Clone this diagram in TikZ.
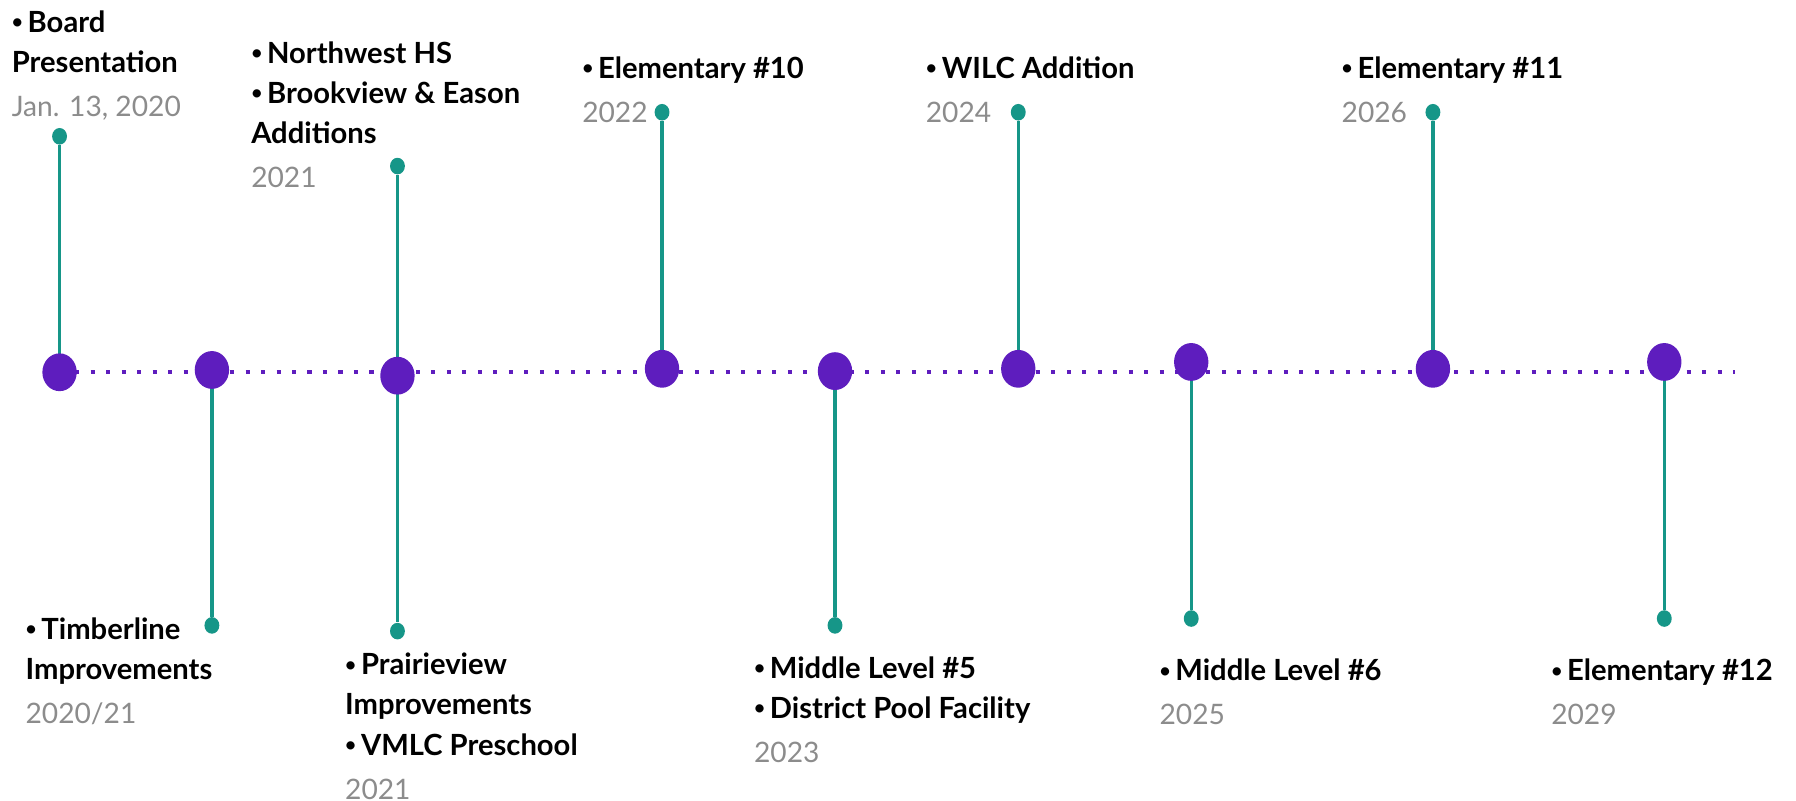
\documentclass[tikz,border=0pt]{standalone}
\usepackage{fontspec}
\usepackage{graphicx}
\setmainfont{Lato}
\usetikzlibrary{shapes.geometric,backgrounds}
\definecolor{evpurple}{RGB}{94,29,190}
\definecolor{evteal}{RGB}{22,150,136}
\definecolor{evgray}{RGB}{140,140,140}
\newcommand{\evdate}[1]{{\color{evgray}\mdseries\fontsize{14}{19.9}\selectfont #1}}
\newcommand{\evbul}{\raisebox{0.12em}{\scalebox{0.65}{•}}\,}

\begin{document}
\begin{tikzpicture}[x=0.02cm,y=-0.02cm]
    \tikzset{
    mile/.style={ellipse,minimum width=0.6cm,minimum height=0.66cm,inner sep=0,fill=evpurple},
    pin/.style={ellipse,minimum width=0.26cm,minimum height=0.29cm,inner sep=0,fill=evteal},
    stem/.style={evteal, line width=1.7pt},
    tline/.style={evpurple, line width=2pt, dash pattern=on 2pt off 5.7pt},
    lbl/.style={anchor=north west,inner sep=0,align=left,font=\fontsize{14.5}{19.9}\selectfont\bfseries},
    }
    \useasboundingbox (0,0) rectangle (1568,699);

    % milestones on the line
    \node[mile] (m1) at (52,325) {};
    \node[mile] (m2) at (185,323) {};
    \node[mile] (m3) at (347,328) {};
    \node[mile] (m4) at (578,322) {};
    \node[mile] (m5) at (729,324) {};
    \node[mile] (m6) at (889,322) {};
    \node[mile] (m7) at (1040,316) {};
    \node[mile] (m8) at (1251,322) {};
    \node[mile] (m9) at (1453,316) {};
    \coordinate (lineend) at (1515,325);

    % pins
    \node[pin] (p1) at (52,119) {};
    \node[pin] (p2) at (185,546) {};
    \node[pin] (p3a) at (347,145) {};
    \node[pin] (p3b) at (347,551) {};
    \node[pin] (p4) at (578,98) {};
    \node[pin] (p5) at (729,546) {};
    \node[pin] (p6) at (889,98) {};
    \node[pin] (p7) at (1040,540) {};
    \node[pin] (p8) at (1251,98) {};
    \node[pin] (p9) at (1453,540) {};

    \begin{pgfonlayer}{background}
    \draw[tline] (m1.center) -- (lineend);
    \draw[stem] (m1.center) -- (p1);
    \draw[stem] (m2.center) -- (p2);
    \draw[stem] (m3.center) -- (p3a);
    \draw[stem] (m3.center) -- (p3b);
    \draw[stem] (m4.center) -- (p4);
    \draw[stem] (m5.center) -- (p5);
    \draw[stem] (m6.center) -- (p6);
    \draw[stem] (m7.center) -- (p7);
    \draw[stem] (m8.center) -- (p8);
    \draw[stem] (m9.center) -- (p9);
    \end{pgfonlayer}

    % labels above
    \node[lbl] (b1) at (10,9) {\evbul Board\\Presentation\\[2pt]\evdate{Jan. 13, 2020}};
    \node[lbl] (b2) at (219,36) {\evbul Northwest HS\\\evbul Brookview \& Eason\\Additions\\[2pt]\evdate{2021}};
    \node[lbl] (b3) at (508,49) {\evbul Elementary \#10\\[2pt]\evdate{2022}};
    \node[lbl] (b4) at (808,49) {\evbul WILC Addition\\[2pt]\evdate{2024}};
    \node[lbl] (b5) at (1171,49) {\evbul Elementary \#11\\[2pt]\evdate{2026}};

    % labels below
    \node[lbl] (t1) at (22,539) {\evbul Timberline\\Improvements\\[2pt]\evdate{2020/21}};
    \node[lbl] (t2) at (301,570) {\evbul Prairieview\\Improvements\\\evbul VMLC Preschool\\[2pt]\evdate{2021}};
    \node[lbl] (t3) at (658,573) {\evbul Middle Level \#5\\\evbul District Pool Facility\\[2pt]\evdate{2023}};
    \node[lbl] (t4) at (1012,575) {\evbul Middle Level \#6\\[2pt]\evdate{2025}};
    \node[lbl] (t5) at (1354,575) {\evbul Elementary \#12\\[2pt]\evdate{2029}};
\end{tikzpicture}
\end{document}
